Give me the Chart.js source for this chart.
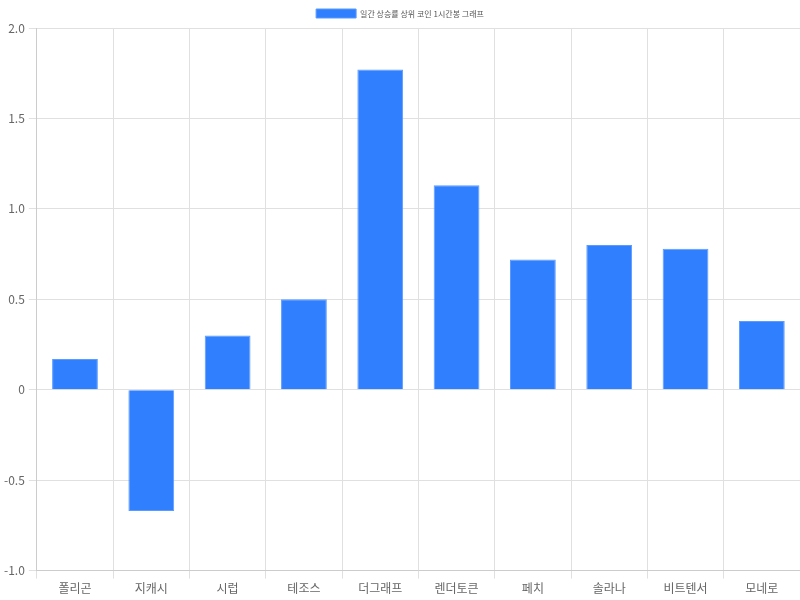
<!DOCTYPE html>
<html>
<head>
<meta charset="utf-8">
<script src="https://cdn.jsdelivr.net/npm/chart.js@4/dist/chart.umd.min.js"></script>
<style>
  html, body { margin: 0; padding: 0; background: #fff; }
  #wrap { width: 800px; height: 600px; }
</style>
</head>
<body>
<div id="wrap"><canvas id="chart"></canvas></div>
<script>
const COINS = ['폴리곤', '지캐시', '시럽', '테조스', '더그래프', '렌더토큰', '페치', '솔라나', '비트텐서', '모네로'];
const CHANGE = [0.17, -0.67, 0.30, 0.50, 1.77, 1.13, 0.72, 0.80, 0.78, 0.38];
const SERIES_LABEL = '일간 상승률 상위 코인 1시간봉 그래프';

const FONT = "'Noto Sans CJK KR', 'Noto Sans', 'DejaVu Sans', sans-serif";
const GRID = '#e0e0e0';

new Chart(document.getElementById('chart').getContext('2d'), {
  type: 'bar',
  data: {
    labels: COINS,
    datasets: [{
      label: SERIES_LABEL,
      data: CHANGE,
      backgroundColor: '#2f7ffe',
      borderColor: '#5b9bff',
      borderWidth: 1,
      barPercentage: 0.75,
      categoryPercentage: 0.8,
    }],
  },
  options: {
    responsive: true, maintainAspectRatio: false, animation: false,
    layout: { padding: { top: 1, right: 0, left: 0, bottom: 1 } },
    plugins: {
      legend: {
        labels: { color: '#555', font: { family: FONT, size: 8 }, boxWidth: 40, boxHeight: 9, padding: 8 },
      },
      tooltip: { enabled: false },
    },
    scales: {
      x: {
        ticks: { color: '#666', font: { family: FONT, size: 12 }, padding: 3 },
        grid: { color: GRID, tickLength: 8 },
        border: { color: '#ccc' },
      },
      y: {
        min: -1, max: 2,
        ticks: {
          stepSize: 0.5, color: '#666', font: { family: FONT, size: 12 }, padding: 4,
          callback: v => v === 0 ? '0' : v.toFixed(1),
        },
        grid: { color: GRID, tickLength: 8 },
        border: { color: '#ccc' },
      },
    },
  },
});
</script>
</body>
</html>
